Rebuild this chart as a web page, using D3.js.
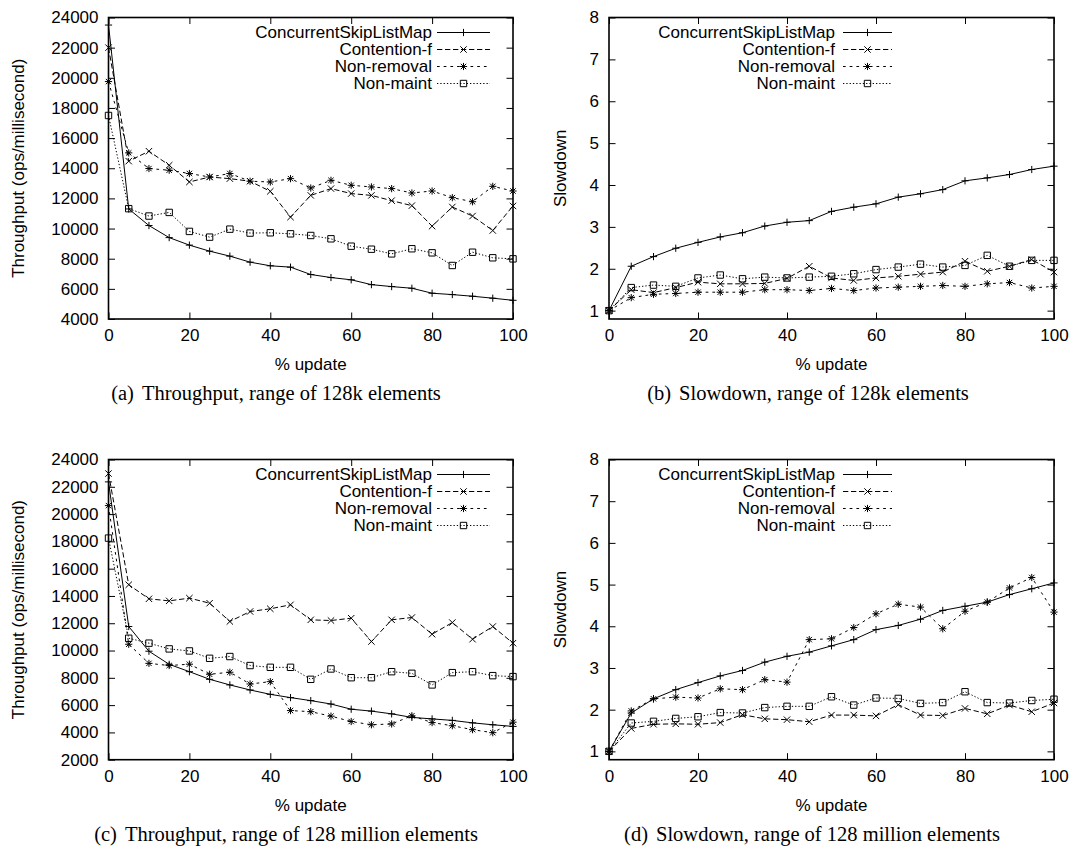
<!DOCTYPE html>
<html><head><meta charset="utf-8">
<script src="https://cdn.jsdelivr.net/npm/d3@7"></script>
<style>
body{margin:0;background:#fff}
svg{display:block}
text{font-family:"Liberation Sans",Arial,Helvetica,sans-serif;fill:#000}
.cap{font-family:"Liberation Serif","Times New Roman",serif}
</style></head><body>
<svg id="chart" width="1074" height="857"></svg>
<script>
// ---------------- data ----------------
const updatePct = [0,5,10,15,20,25,30,35,40,45,50,55,60,65,70,75,80,85,90,95,100];
const xTickLabels = [0,20,40,60,80,100];
const seriesNames = ["ConcurrentSkipListMap","Contention-f","Non-removal","Non-maint"];
const throughputTicks128k = [4000,6000,8000,10000,12000,14000,16000,18000,20000,22000,24000];
const throughputTicks128M = [2000,4000,6000,8000,10000,12000,14000,16000,18000,20000,22000,24000];
const slowdownTicks = [1,2,3,4,5,6,7,8];
const captionLabels = ["(a)","(b)","(c)","(d)"];
const captionTexts = [
  "Throughput, range of 128k elements",
  "Slowdown, range of 128k elements",
  "Throughput, range of 128 million elements",
  "Slowdown, range of 128 million elements"
];

// (a) throughput, 128k
const thr128k_cslm   = [23500,11300,10200,9400,8900,8500,8170,7770,7530,7440,6950,6750,6600,6280,6150,6040,5710,5620,5510,5380,5240];
const thr128k_contf  = [22000,14470,15130,14200,13090,13420,13310,13140,12470,10760,12200,12650,12320,12200,11850,11520,10160,11430,10830,9870,11500];
const thr128k_nonrem = [19750,15020,13980,13870,13650,13420,13650,13140,13090,13310,12690,13200,12870,12760,12650,12360,12490,12050,11780,12800,12490];
const thr128k_nonmnt = [17500,11320,10830,11070,9810,9430,9960,9700,9720,9650,9540,9320,8830,8630,8320,8660,8390,7550,8430,8060,7990];
// (b) slowdown, 128k
const slo128k_cslm   = [1,2.06,2.29,2.49,2.63,2.76,2.86,3.02,3.11,3.15,3.37,3.47,3.55,3.71,3.79,3.89,4.10,4.17,4.25,4.37,4.45];
const slo128k_contf  = [1,1.50,1.43,1.55,1.68,1.64,1.64,1.65,1.77,2.06,1.78,1.72,1.78,1.82,1.87,1.92,2.18,1.94,2.06,2.22,1.92];
const slo128k_nonrem = [1,1.31,1.39,1.41,1.44,1.44,1.44,1.50,1.50,1.48,1.53,1.48,1.54,1.56,1.58,1.60,1.58,1.64,1.67,1.54,1.58];
const slo128k_nonmnt = [1,1.55,1.61,1.58,1.78,1.85,1.76,1.80,1.78,1.80,1.82,1.88,1.98,2.04,2.11,2.04,2.08,2.32,2.06,2.20,2.20];
// (c) throughput, 128 million
const thr128M_cslm   = [22360,11760,9950,8990,8450,7890,7480,7110,6790,6550,6330,6080,5700,5560,5360,5100,4990,4880,4700,4560,4440];
const thr128M_contf  = [22970,14820,13790,13640,13840,13470,12130,12860,13060,13350,12250,12200,12370,10660,12250,12420,11200,12050,10830,11760,10540];
const thr128M_nonrem = [20620,10460,9060,8900,9000,8260,8410,7550,7720,5600,5520,5190,4800,4560,4620,5220,4720,4490,4200,3980,4750];
const thr128M_nonmnt = [18240,10900,10540,10120,9970,9430,9560,8900,8770,8770,7890,8650,8010,8010,8450,8330,7480,8380,8450,8160,8090];
// (d) slowdown, 128 million
const slo128M_cslm   = [1,1.92,2.26,2.48,2.65,2.81,2.94,3.14,3.28,3.38,3.53,3.68,3.92,4.02,4.17,4.38,4.48,4.58,4.76,4.90,5.04];
const slo128M_contf  = [1,1.55,1.65,1.66,1.65,1.69,1.88,1.78,1.76,1.71,1.87,1.87,1.85,2.12,1.87,1.86,2.03,1.90,2.11,1.95,2.16];
const slo128M_nonrem = [1,1.97,2.26,2.30,2.28,2.50,2.48,2.72,2.66,3.68,3.70,3.97,4.30,4.53,4.46,3.94,4.36,4.58,4.92,5.17,4.34];
const slo128M_nonmnt = [1,1.68,1.72,1.79,1.83,1.93,1.92,2.05,2.08,2.08,2.31,2.11,2.28,2.27,2.15,2.17,2.43,2.17,2.16,2.22,2.25];

// ---------------- styles ----------------
const styles = [
  {dash:null,     marker:"plus"},
  {dash:"5.3,2.7",marker:"cross"},
  {dash:"2.7,4",  marker:"star"},
  {dash:"1.3,2",  marker:"square"}
];

const panels = [
  {left:108.5, right:513, top:17.5, bottom:319, yDomain:[4000,24000], yTicks:throughputTicks128k,
   yTitle:"Throughput (ops/millisecond)", yTitleX:18, legText:432, legL1:437, legL2:490,
   capX:276, data:[thr128k_cslm,thr128k_contf,thr128k_nonrem,thr128k_nonmnt]},
  {left:609, right:1054, top:17.5, bottom:319, yDomain:[0.8,8], yTicks:slowdownTicks,
   yTitle:"Slowdown", yTitleX:560.5, legText:835, legL1:843, legL2:892,
   capX:808, data:[slo128k_cslm,slo128k_contf,slo128k_nonrem,slo128k_nonmnt]},
  {left:108.5, right:513, top:459.5, bottom:759.7, yDomain:[2000,24000], yTicks:throughputTicks128M,
   yTitle:"Throughput (ops/millisecond)", yTitleX:18, legText:432, legL1:437, legL2:490,
   capX:286, data:[thr128M_cslm,thr128M_contf,thr128M_nonrem,thr128M_nonmnt]},
  {left:609, right:1054, top:459.5, bottom:759.7, yDomain:[0.8,8], yTicks:slowdownTicks,
   yTitle:"Slowdown", yTitleX:560.5, legText:835, legL1:843, legL2:892,
   capX:812, data:[slo128M_cslm,slo128M_contf,slo128M_nonrem,slo128M_nonmnt]}
];

const svg = d3.select("#chart");
const FS = 17;

function markerPath(type, cx, cy){
  const s = 3.6, q = 3.2;
  if(type==="plus")  return `M${cx-s},${cy}H${cx+s}M${cx},${cy-s}V${cy+s}`;
  if(type==="cross") return `M${cx-q},${cy-q}L${cx+q},${cy+q}M${cx-q},${cy+q}L${cx+q},${cy-q}`;
  if(type==="star")  return `M${cx-s},${cy}H${cx+s}M${cx},${cy-s}V${cy+s}M${cx-2.7},${cy-2.7}L${cx+2.7},${cy+2.7}M${cx-2.7},${cy+2.7}L${cx+2.7},${cy-2.7}`;
  const h = 3.2;
  return `M${cx-h},${cy-h}H${cx+h}V${cy+h}H${cx-h}Z`;
}

panels.forEach((p,pi) => {
  const g = svg.append("g");
  const x = d3.scaleLinear().domain([0,100]).range([p.left,p.right]);
  const y = d3.scaleLinear().domain(p.yDomain).range([p.bottom,p.top]);
  const TL = 6.5;

  const ab = g.append("g").attr("transform",`translate(0,${p.bottom})`)
    .call(d3.axisBottom(x).tickValues(xTickLabels).tickSize(-TL).tickPadding(8).tickFormat(d3.format("d")));
  const at = g.append("g").attr("transform",`translate(0,${p.top})`)
    .call(d3.axisTop(x).tickValues(xTickLabels).tickSize(-TL).tickFormat(""));
  const al = g.append("g").attr("transform",`translate(${p.left},0)`)
    .call(d3.axisLeft(y).tickValues(p.yTicks).tickSize(-TL).tickPadding(10).tickFormat(d3.format("d")));
  const ar = g.append("g").attr("transform",`translate(${p.right},0)`)
    .call(d3.axisRight(y).tickValues(p.yTicks).tickSize(-TL).tickFormat(""));
  [ab,at,al,ar].forEach(a=>{
    a.select(".domain").remove();
    a.selectAll("line").attr("stroke","#000").attr("stroke-width",1);
    a.selectAll("text").style("font-size",FS+"px").style("font-family",'"Liberation Sans",Arial,sans-serif').attr("fill","#000");
  });
  ab.selectAll("text").attr("dy","0.85em").attr("y",8);
  g.append("rect").attr("x",p.left).attr("y",p.top).attr("width",p.right-p.left).attr("height",p.bottom-p.top)
    .attr("fill","none").attr("stroke","#000").attr("stroke-width",1.6);

  p.data.forEach((vals,i)=>{
    const st = styles[i];
    const pts = updatePct.map((u,k)=>[u,vals[k]]);
    const line = d3.line().x(d=>x(d[0])).y(d=>y(d[1]));
    g.append("path").attr("d",line(pts)).attr("fill","none").attr("stroke","#000")
      .attr("stroke-width",1).attr("stroke-dasharray",st.dash);
    g.append("path").attr("d",pts.map(d=>markerPath(st.marker,x(d[0]),y(d[1]))).join(""))
      .attr("fill","none").attr("stroke","#000").attr("stroke-width",1);
  });

  seriesNames.forEach((name,i)=>{
    const st = styles[i];
    const ly = p.top + 15 + i*17;
    g.append("text").attr("x",p.legText).attr("y",ly).attr("dy","0.35em")
      .attr("text-anchor","end").style("font-size",FS+"px").text(name);
    g.append("line").attr("x1",p.legL1).attr("x2",p.legL2).attr("y1",ly).attr("y2",ly)
      .attr("stroke","#000").attr("stroke-width",1).attr("stroke-dasharray",st.dash);
    g.append("path").attr("d",markerPath(st.marker,(p.legL1+p.legL2)/2,ly))
      .attr("fill","none").attr("stroke","#000").attr("stroke-width",1);
  });

  g.append("text").attr("x",(p.left+p.right)/2).attr("y",p.bottom+45.5).attr("dy","0.35em")
    .attr("text-anchor","middle").style("font-size",FS+"px").text("% update");
  const cy = (p.top+p.bottom)/2;
  g.append("text").attr("transform",`translate(${p.yTitleX},${cy}) rotate(-90)`).attr("dy","0.35em")
    .attr("text-anchor","middle").style("font-size",FS+"px").text(p.yTitle);

  const cap = g.append("text").attr("class","cap").attr("x",p.capX).attr("y",p.bottom+74).attr("dy","0.35em")
    .attr("text-anchor","middle").style("font-size","20.5px");
  cap.append("tspan").text(captionLabels[pi]);
  cap.append("tspan").attr("dx",8).text(captionTexts[pi]);
});
</script>
</body></html>
